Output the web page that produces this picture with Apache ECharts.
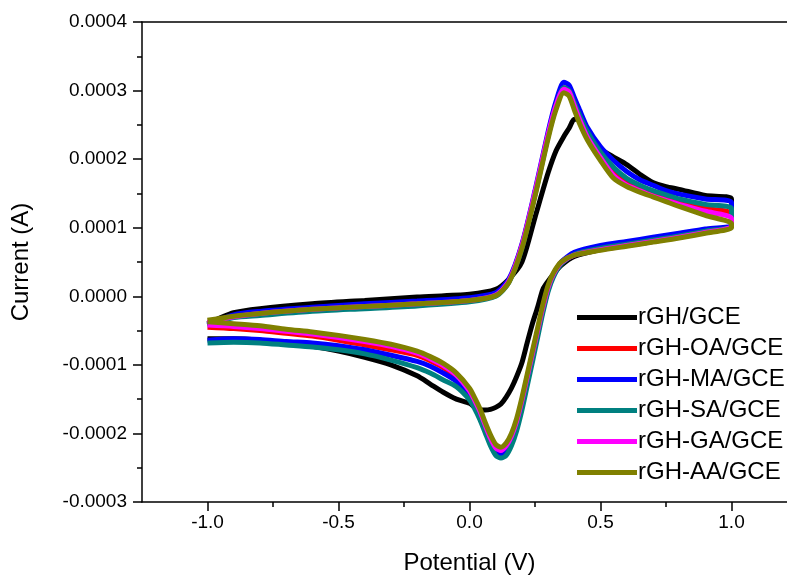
<!DOCTYPE html>
<html>
<head>
<meta charset="utf-8">
<script src="https://cdn.jsdelivr.net/npm/echarts@6/dist/echarts.min.js"></script>
<style>
html,body{margin:0;padding:0;background:#fff;}
#chart{width:787px;height:575px;}
</style>
</head>
<body>
<div id="chart"></div>
<script>
// Cyclic voltammograms. Currents in units of 1e-4 A.
const seriesNames = ['rGH/GCE', 'rGH-OA/GCE', 'rGH-MA/GCE', 'rGH-SA/GCE', 'rGH-GA/GCE', 'rGH-AA/GCE'];
const seriesColors = ['#000000', '#ff0000', '#0000ff', '#008080', '#ff00ff', '#808000'];

const xTickValues = [-1.0, -0.5, 0.0, 0.5, 1.0];
const xMinorTickValues = [-0.75, -0.25, 0.25, 0.75];

// forward (anodic) scan potentials, V
const potentialForward = [-1.0, -0.9, -0.8, -0.6, -0.4, -0.2, 0.0, 0.1, 0.15, 0.2, 0.25, 0.3, 0.33, 0.36, 0.38, 0.4, 0.42, 0.45, 0.5, 0.55, 0.6, 0.65, 0.7, 0.75, 0.8, 0.9, 1.0];
// reverse (cathodic) scan potentials, V
const potentialReverse = [1.0, 0.9, 0.8, 0.7, 0.6, 0.5, 0.4, 0.35, 0.32, 0.3, 0.28, 0.26, 0.24, 0.22, 0.2, 0.18, 0.16, 0.14, 0.12, 0.1, 0.08, 0.06, 0.04, 0.02, 0.0, -0.05, -0.1, -0.15, -0.2, -0.3, -0.4, -0.5, -0.6, -0.7, -0.8, -0.9, -1.0];

const fwd_rGH   = [-0.40, -0.24, -0.18, -0.11, -0.06, -0.01, 0.03, 0.10, 0.25, 0.50, 1.15, 1.80, 2.12, 2.33, 2.45, 2.58, 2.58, 2.35, 2.15, 2.03, 1.92, 1.78, 1.66, 1.60, 1.56, 1.47, 1.42];
const fwd_rGHOA = [-0.38, -0.29, -0.24, -0.18, -0.13, -0.09, -0.04, 0.03, 0.22, 0.74, 1.50, 2.35, 2.78, 3.04, 3.00, 2.80, 2.62, 2.36, 2.05, 1.80, 1.66, 1.57, 1.50, 1.44, 1.38, 1.28, 1.21];
const fwd_rGHMA = [-0.42, -0.27, -0.22, -0.16, -0.11, -0.07, -0.02, 0.05, 0.25, 0.76, 1.54, 2.40, 2.84, 3.12, 3.08, 2.90, 2.72, 2.46, 2.18, 1.98, 1.82, 1.70, 1.62, 1.54, 1.49, 1.42, 1.37];
const fwd_rGHSA = [-0.42, -0.31, -0.28, -0.22, -0.18, -0.14, -0.08, 0.00, 0.20, 0.70, 1.48, 2.33, 2.76, 3.04, 3.00, 2.82, 2.64, 2.40, 2.10, 1.88, 1.72, 1.62, 1.54, 1.48, 1.42, 1.34, 1.28];
const fwd_rGHGA = [-0.38, -0.30, -0.25, -0.19, -0.15, -0.11, -0.06, 0.02, 0.22, 0.74, 1.52, 2.36, 2.78, 3.02, 2.98, 2.78, 2.58, 2.32, 2.02, 1.76, 1.62, 1.54, 1.46, 1.40, 1.34, 1.24, 1.14];
const fwd_rGHAA = [-0.35, -0.29, -0.25, -0.19, -0.15, -0.11, -0.06, 0.01, 0.20, 0.70, 1.46, 2.30, 2.72, 2.97, 2.92, 2.72, 2.52, 2.28, 1.98, 1.72, 1.60, 1.52, 1.45, 1.38, 1.31, 1.18, 1.06];

const rev_rGH   = [1.02, 0.94, 0.87, 0.80, 0.74, 0.68, 0.58, 0.45, 0.32, 0.22, 0.10, -0.16, -0.40, -0.68, -0.97, -1.17, -1.34, -1.47, -1.57, -1.62, -1.65, -1.66, -1.66, -1.62, -1.56, -1.50, -1.40, -1.28, -1.16, -1.00, -0.89, -0.80, -0.73, -0.68, -0.64, -0.62, -0.62];
const rev_rGHOA = [1.03, 0.94, 0.87, 0.81, 0.75, 0.69, 0.61, 0.49, 0.31, 0.12, -0.18, -0.52, -0.86, -1.20, -1.54, -1.84, -2.06, -2.20, -2.27, -2.24, -2.10, -1.91, -1.71, -1.55, -1.41, -1.18, -1.04, -0.94, -0.86, -0.78, -0.71, -0.64, -0.58, -0.54, -0.50, -0.47, -0.45];
const rev_rGHMA = [1.05, 0.98, 0.92, 0.86, 0.80, 0.74, 0.64, 0.50, 0.30, 0.10, -0.20, -0.55, -0.90, -1.25, -1.60, -1.90, -2.12, -2.26, -2.31, -2.28, -2.14, -1.95, -1.76, -1.60, -1.46, -1.24, -1.12, -1.02, -0.95, -0.86, -0.78, -0.72, -0.68, -0.66, -0.63, -0.62, -0.64];
const rev_rGHSA = [1.03, 0.95, 0.88, 0.82, 0.76, 0.70, 0.61, 0.47, 0.28, 0.07, -0.24, -0.60, -0.96, -1.31, -1.66, -1.96, -2.18, -2.32, -2.36, -2.32, -2.18, -1.99, -1.80, -1.64, -1.51, -1.32, -1.22, -1.12, -1.04, -0.93, -0.84, -0.78, -0.74, -0.71, -0.68, -0.67, -0.68];
const rev_rGHGA = [1.02, 0.93, 0.86, 0.80, 0.74, 0.68, 0.60, 0.49, 0.32, 0.13, -0.16, -0.50, -0.84, -1.18, -1.52, -1.82, -2.04, -2.18, -2.25, -2.21, -2.07, -1.88, -1.68, -1.52, -1.38, -1.15, -1.01, -0.91, -0.83, -0.73, -0.66, -0.60, -0.55, -0.51, -0.47, -0.44, -0.42];
const rev_rGHAA = [1.00, 0.92, 0.85, 0.79, 0.73, 0.67, 0.60, 0.50, 0.34, 0.16, -0.12, -0.46, -0.80, -1.14, -1.48, -1.78, -2.00, -2.14, -2.20, -2.16, -2.02, -1.84, -1.64, -1.48, -1.34, -1.12, -0.98, -0.88, -0.80, -0.70, -0.63, -0.57, -0.52, -0.48, -0.43, -0.40, -0.37];

const forwardCurrents = [fwd_rGH, fwd_rGHOA, fwd_rGHMA, fwd_rGHSA, fwd_rGHGA, fwd_rGHAA];
const reverseCurrents = [rev_rGH, rev_rGHOA, rev_rGHMA, rev_rGHSA, rev_rGHGA, rev_rGHAA];
const currentUnit = 1e-4;

const FONT = 'Liberation Sans, Arial, sans-serif';

function loop(i) {
  const pts = [];
  potentialForward.forEach((e, k) => pts.push([e, forwardCurrents[i][k] * currentUnit]));
  potentialReverse.forEach((e, k) => pts.push([e, reverseCurrents[i][k] * currentUnit]));
  return pts;
}

const chart = echarts.init(document.getElementById('chart'), null, {renderer: 'canvas'});
const axisLine = {show: true, onZero: false, lineStyle: {color: '#000', width: 1.5}};

const option = {
  backgroundColor: '#ffffff',
  animation: false,
  grid: {left: 142, top: 22, right: -10, bottom: 73, containLabel: false, outerBoundsMode: 'none'},
  legend: {
    orient: 'vertical', left: 572, top: 300,
    itemWidth: 60, itemHeight: 5, itemGap: 6, icon: 'rect',
    data: seriesNames,
    textStyle: {fontSize: 24, color: '#000', fontFamily: FONT, lineHeight: 25, padding: [0, 0, 0, -4]}
  },
  xAxis: [
    {
      type: 'value', min: -1.25, max: 1.25, position: 'bottom',
      name: 'Potential (V)', nameLocation: 'middle', nameGap: 49,
      nameTextStyle: {fontSize: 24, color: '#000', fontFamily: FONT},
      axisLine: axisLine,
      axisTick: {show: true, inside: false, length: 9, lineStyle: {color: '#000', width: 1.5}, customValues: xTickValues},
      axisLabel: {show: true, customValues: xTickValues, margin: 11, fontSize: 19, color: '#000', fontFamily: FONT,
        formatter: v => v.toFixed(1)},
      splitLine: {show: false}
    },
    {
      type: 'value', min: -1.25, max: 1.25, position: 'bottom',
      axisLine: {show: false, onZero: false},
      axisTick: {show: true, inside: false, length: 5, lineStyle: {color: '#000', width: 1.5}, customValues: xMinorTickValues},
      axisLabel: {show: false},
      splitLine: {show: false}
    },
    {
      type: 'value', min: -1.25, max: 1.25, position: 'top',
      axisLine: axisLine, axisTick: {show: false}, axisLabel: {show: false}, splitLine: {show: false}
    }
  ],
  yAxis: [
    {
      type: 'value', min: -0.0003, max: 0.0004, interval: 0.0001, position: 'left',
      name: 'Current (A)', nameLocation: 'middle', nameGap: 109, nameRotate: 90,
      nameTextStyle: {fontSize: 24, color: '#000', fontFamily: FONT},
      axisLine: axisLine,
      axisTick: {show: true, inside: false, length: 9, lineStyle: {color: '#000', width: 1.5}},
      minorTick: {show: true, splitNumber: 2, length: 5, lineStyle: {color: '#000', width: 1.5}},
      axisLabel: {margin: 15, fontSize: 19, color: '#000', fontFamily: FONT,
        formatter: v => (Math.abs(v) < 1e-12 ? 0 : v).toFixed(4)},
      splitLine: {show: false}, minorSplitLine: {show: false}
    },
    {
      type: 'value', min: -0.0003, max: 0.0004, position: 'right',
      axisLine: axisLine, axisTick: {show: false}, axisLabel: {show: false}, splitLine: {show: false}
    }
  ],
  series: seriesNames.map((name, i) => ({
    name: name,
    type: 'line',
    xAxisIndex: 0, yAxisIndex: 0,
    data: loop(i),
    showSymbol: false, symbol: 'none',
    smooth: 0.25,
    color: seriesColors[i],
    lineStyle: {color: seriesColors[i], width: 5},
    z: 2 + i
  }))
};
chart.setOption(option);
</script>
</body>
</html>
